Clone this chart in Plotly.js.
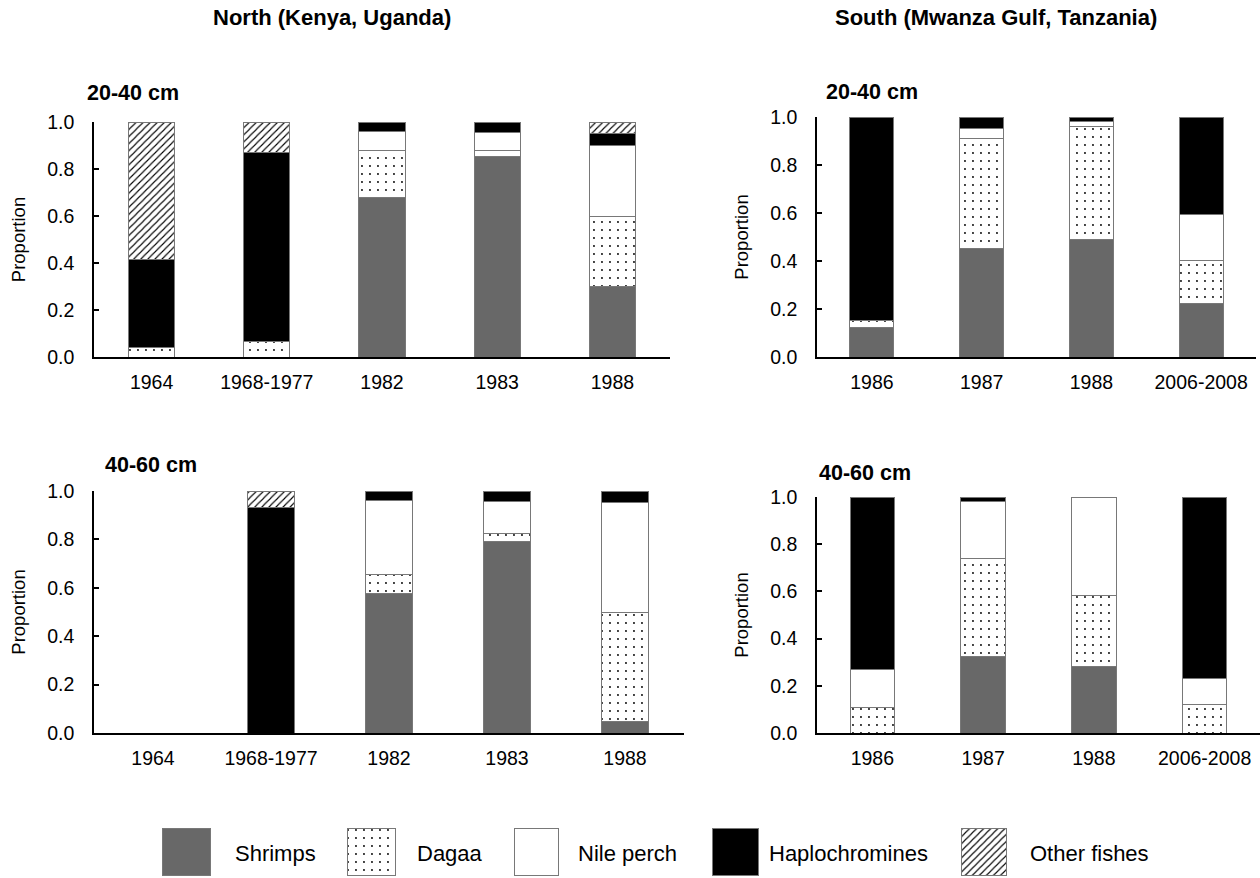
<!DOCTYPE html>
<html><head><meta charset="utf-8">
<script src="https://cdn.plot.ly/plotly-3.0.1.min.js"></script>
<style>html,body{margin:0;padding:0;background:#fff}</style>
</head><body><div id="chart" style="width:1260px;height:878px"></div>
<script>
// ---------- data ----------
const seriesNames = ['Shrimps', 'Dagaa', 'Nile perch', 'Haplochromines', 'Other fishes'];
const northYears = ['1964', '1968-1977', '1982', '1983', '1988'];
const southYears = ['1986', '1987', '1988', '2006-2008'];
const regionTitles = ['North (Kenya, Uganda)', 'South (Mwanza Gulf, Tanzania)'];
const sizeClasses = ['20-40 cm', '40-60 cm'];
const yTickVals = [0, 0.2, 0.4, 0.6, 0.8, 1.0];

// North, 20-40 cm
const north2040Shrimps   = [0, 0, 0.68, 0.854, 0.30];
const north2040Dagaa     = [0.042, 0.068, 0.20, 0.023, 0.30];
const north2040NilePerch = [0, 0, 0.078, 0.078, 0.30];
const north2040Haplo     = [0.371, 0.803, 0.042, 0.045, 0.05];
const north2040Other     = [0.587, 0.129, 0, 0, 0.05];
// North, 40-60 cm
const north4060Shrimps   = [0, 0, 0.578, 0.793, 0.049];
const north4060Dagaa     = [0, 0, 0.078, 0.03, 0.451];
const north4060NilePerch = [0, 0, 0.304, 0.132, 0.451];
const north4060Haplo     = [0, 0.932, 0.04, 0.045, 0.049];
const north4060Other     = [0, 0.068, 0, 0, 0];
// South, 20-40 cm
const south2040Shrimps   = [0.121, 0.452, 0.49, 0.225];
const south2040Dagaa     = [0.031, 0.458, 0.471, 0.178];
const south2040NilePerch = [0, 0.043, 0.02, 0.19];
const south2040Haplo     = [0.848, 0.047, 0.019, 0.407];
const south2040Other     = [0, 0, 0, 0];
// South, 40-60 cm
const south4060Shrimps   = [0, 0.325, 0.282, 0];
const south4060Dagaa     = [0.106, 0.416, 0.30, 0.121];
const south4060NilePerch = [0.163, 0.238, 0.418, 0.11];
const south4060Haplo     = [0.731, 0.021, 0, 0.769];
const south4060Other     = [0, 0, 0, 0];

// ---------- styles ----------
const FONT = 'Liberation Sans, Arial, Helvetica, sans-serif';
const EDGE = {color: 'rgb(120,120,120)', width: 1};
const seriesStyles = [
  {color: '#686868', line: EDGE},
  {color: 'white', line: EDGE, pattern: {shape: '.', fgcolor: 'black', bgcolor: 'white', fillmode: 'replace', size: 8, solidity: 0.045}},
  {color: 'white', line: EDGE},
  {color: 'black', line: EDGE},
  {color: 'white', line: EDGE, pattern: {shape: '/', fgcolor: 'black', bgcolor: 'white', fillmode: 'replace', size: 5, solidity: 0.22}}
];

const W = 1260, H = 878;
const px = v => v / W;
const py = v => 1 - v / H;

const panels = [
  {cats: northYears, series: [north2040Shrimps, north2040Dagaa, north2040NilePerch, north2040Haplo, north2040Other],
   xd: [94, 670], yd: [122, 357], title: sizeClasses[0], tx: 85, ty: 93},
  {cats: southYears, series: [south2040Shrimps, south2040Dagaa, south2040NilePerch, south2040Haplo, south2040Other],
   xd: [817, 1256], yd: [117, 357], title: sizeClasses[0], tx: 824, ty: 92},
  {cats: northYears, series: [north4060Shrimps, north4060Dagaa, north4060NilePerch, north4060Haplo, north4060Other],
   xd: [94, 684], yd: [491, 733], title: sizeClasses[1], tx: 103, ty: 465},
  {cats: southYears, series: [south4060Shrimps, south4060Dagaa, south4060NilePerch, south4060Haplo, south4060Other],
   xd: [817, 1260], yd: [497, 733], title: sizeClasses[1], tx: 817, ty: 473}
];

const traces = [];
const layout = {
  width: W, height: H,
  margin: {l: 0, r: 0, t: 0, b: 0},
  paper_bgcolor: 'white', plot_bgcolor: 'rgba(0,0,0,0)',
  barmode: 'stack', bargap: 0.6,
  showlegend: false,
  font: {family: FONT, color: 'black'},
  annotations: [], shapes: []
};

panels.forEach((p, i) => {
  const n = i + 1;
  const xa = n === 1 ? 'x' : 'x' + n;
  const ya = n === 1 ? 'y' : 'y' + n;
  p.series.forEach((vals, s) => {
    traces.push({
      type: 'bar', name: seriesNames[s], x: p.cats, y: vals.map(v => v === 0 ? null : v),
      xaxis: xa, yaxis: ya, marker: seriesStyles[s], hoverinfo: 'x+y+name'
    });
  });
  layout['xaxis' + (n === 1 ? '' : n)] = {
    domain: [px(p.xd[0]), px(p.xd[1])], anchor: ya,
    type: 'category', categoryorder: 'array', categoryarray: p.cats,
    range: [-0.5, p.cats.length - 0.5],
    showline: true, linecolor: 'black', linewidth: 1.5,
    ticks: '', showgrid: false, zeroline: false,
    tickfont: {size: 19.5, color: 'black', family: FONT}, ticklabelstandoff: 7
  };
  layout['yaxis' + (n === 1 ? '' : n)] = {
    domain: [py(p.yd[1]), py(p.yd[0])], anchor: xa,
    range: [0, 1], tickvals: yTickVals, tickformat: '.1f',
    ticks: 'inside', ticklen: 5, tickwidth: 1.5, tickcolor: 'black',
    showline: true, linecolor: 'black', linewidth: 1.5,
    showgrid: false, zeroline: false,
    tickfont: {size: 19.5, color: 'black', family: FONT}, ticklabelstandoff: 14,
    title: {text: 'Proportion', font: {size: 18.5, color: 'black', family: FONT}, standoff: 17}
  };
  layout.annotations.push({
    text: '<b>' + p.title + '</b>', xref: 'paper', yref: 'paper',
    x: px(p.tx), y: py(p.ty), xanchor: 'left', yanchor: 'middle',
    showarrow: false, font: {size: 21.5, color: 'black', family: FONT}
  });
});

// region titles
[[332, 18], [996, 18]].forEach((pos, i) => {
  layout.annotations.push({
    text: '<b>' + regionTitles[i] + '</b>', xref: 'paper', yref: 'paper',
    x: px(pos[0]), y: py(pos[1]), xanchor: 'center', yanchor: 'middle',
    showarrow: false, font: {size: 22, color: 'black', family: FONT}
  });
});

// legend: one swatch axis per series (axis padded so the swatch outline is not clipped)
const legendBoxes = [[162, 210], [347, 395], [514, 558], [712, 758], [961, 1006]];
const legendTextX = [233, 415, 576, 767, 1028];
const PAD = 3;
seriesNames.forEach((name, s) => {
  const n = 5 + s;
  const bw = legendBoxes[s][1] - legendBoxes[s][0];
  const bh = 876 - 829;
  traces.push({
    type: 'bar', name: name, x: [name], y: [1], width: [1],
    xaxis: 'x' + n, yaxis: 'y' + n, marker: seriesStyles[s],
    hoverinfo: 'name', showlegend: false
  });
  layout['xaxis' + n] = {domain: [px(legendBoxes[s][0] - PAD), px(legendBoxes[s][1] + PAD)], anchor: 'y' + n,
    type: 'category', range: [-0.5 - PAD / bw, 0.5 + PAD / bw], visible: false, fixedrange: true};
  layout['yaxis' + n] = {domain: [py(876 + PAD), py(829 - PAD)], anchor: 'x' + n,
    range: [-PAD / bh, 1 + PAD / bh], visible: false, fixedrange: true};
  layout.annotations.push({
    text: name, xref: 'paper', yref: 'paper', x: px(legendTextX[s]), y: py(853),
    xanchor: 'left', yanchor: 'middle', showarrow: false,
    font: {size: 22, color: 'black', family: FONT}
  });
});

Plotly.newPlot('chart', traces, layout, {displayModeBar: false});
</script>
</body></html>
